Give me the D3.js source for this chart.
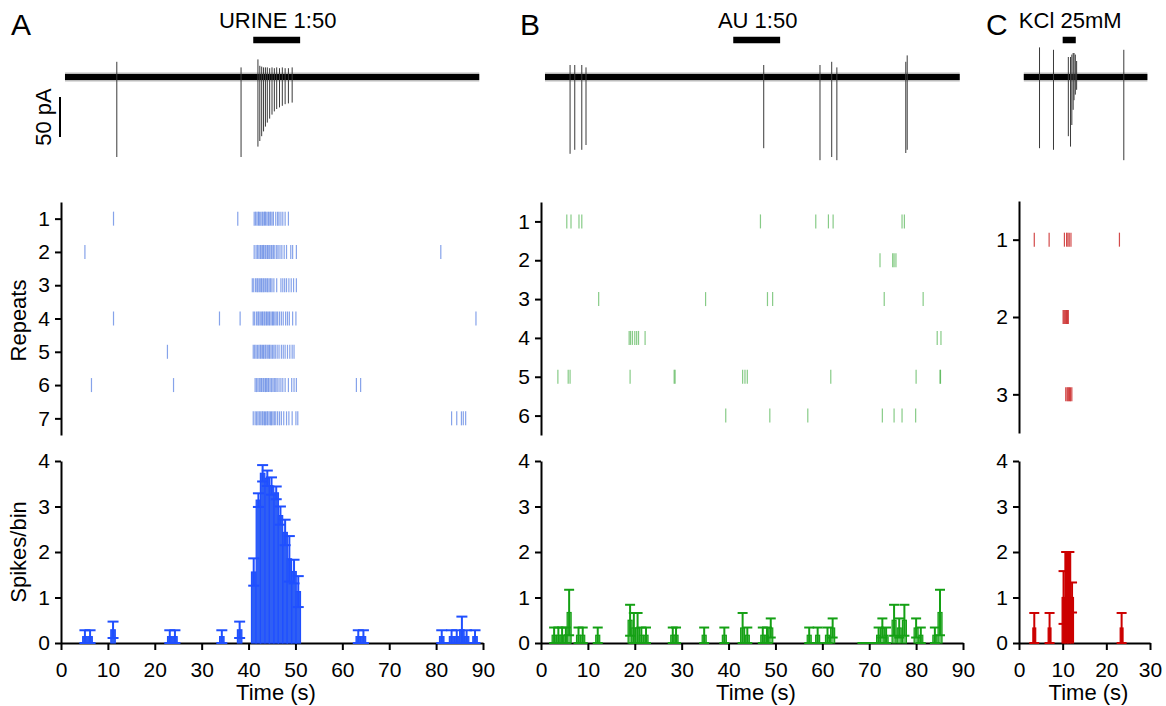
<!DOCTYPE html>
<html>
<head>
<meta charset="utf-8">
<script src="https://cdn.jsdelivr.net/npm/d3@7"></script>
<style>
  body { margin: 0; background: #fff; }
  svg { display: block; }
  text { font-family: "Liberation Sans", Arial, sans-serif; fill: #000; }
</style>
</head>
<body>
<div id="chart"></div>
<script>
// ---- data ----
const timeTicksLong = [0, 10, 20, 30, 40, 50, 60, 70, 80, 90];
const timeTicksShort = [0, 10, 20, 30];
const countTicks = [0, 1, 2, 3, 4];

const stimA = [41, 51];
const stimB = [41, 51];
const stimC = [10, 13];

// spike times (s) per repeat
const rasterA = [
  [11.2, 37.7, 41.2, 41.5, 41.8, 42.1, 42.3, 42.6, 42.9, 43.1, 43.4, 43.6, 43.9, 44.2, 44.4, 44.7, 45.0, 45.3, 45.8, 46.2, 46.5, 46.9, 47.3, 47.8, 48.5],
  [5.1, 41.2, 41.6, 41.9, 42.2, 42.5, 42.7, 43.0, 43.2, 43.5, 43.7, 44.0, 44.2, 44.5, 44.8, 45.0, 45.3, 45.6, 46.0, 46.3, 46.7, 47.1, 47.6, 48.1, 49.0, 49.4, 50.2, 81.0],
  [40.8, 41.1, 41.5, 41.8, 42.0, 42.3, 42.6, 42.8, 43.1, 43.3, 43.6, 43.9, 44.1, 44.4, 44.7, 45.0, 45.4, 46.0, 46.9, 47.3, 47.7, 48.1, 48.6, 49.1, 49.6, 50.2],
  [11.2, 33.8, 38.2, 41.0, 41.3, 41.7, 42.0, 42.2, 42.5, 42.8, 43.0, 43.3, 43.5, 43.8, 44.0, 44.3, 44.5, 44.8, 45.1, 45.3, 45.6, 45.9, 46.2, 46.6, 47.0, 47.4, 47.9, 48.3, 48.7, 49.4, 50.1, 88.5],
  [22.7, 41.0, 41.3, 41.6, 41.9, 42.2, 42.5, 42.7, 43.0, 43.2, 43.5, 43.7, 44.0, 44.3, 44.5, 44.8, 45.1, 45.4, 45.7, 46.1, 46.5, 47.0, 47.4, 47.8, 48.3, 48.8, 49.3, 49.7],
  [6.5, 24.0, 41.4, 41.7, 42.0, 42.3, 42.6, 42.8, 43.1, 43.3, 43.6, 43.8, 44.1, 44.3, 44.6, 44.9, 45.2, 45.5, 45.8, 46.1, 46.5, 46.9, 47.3, 47.8, 48.5, 49.2, 49.7, 50.2, 63.0, 63.9],
  [41.0, 41.4, 41.7, 42.0, 42.3, 42.6, 42.9, 43.1, 43.4, 43.6, 43.9, 44.1, 44.4, 44.7, 44.9, 45.2, 45.5, 45.8, 46.2, 46.6, 47.0, 47.5, 48.1, 48.6, 49.3, 50.1, 50.5, 83.3, 84.4, 85.4, 85.8, 86.3]
];
const rasterB = [
  [5.5, 6.4, 8.1, 8.7, 46.8, 58.6, 61.3, 62.3, 77.0, 77.5],
  [72.3, 75.0, 75.3, 75.7],
  [12.3, 35.1, 48.3, 49.4, 73.2, 81.5],
  [18.8, 19.1, 19.5, 20.0, 20.4, 20.8, 22.2, 84.5, 85.3],
  [3.6, 5.8, 6.2, 19.0, 28.4, 28.6, 43.0, 43.5, 44.0, 61.8, 80.0, 85.1, 85.2],
  [39.4, 48.8, 56.9, 72.8, 75.3, 77.0, 79.9]
];
const rasterC = [
  [3.5, 6.9, 10.4, 10.9, 11.2, 11.5, 11.9, 23.0],
  [10.1, 10.3, 10.5, 10.7, 10.9, 11.1, 11.3],
  [10.7, 11.0, 11.2, 11.4, 11.6, 11.8, 12.1]
];

// histograms: bin centre (s), mean spikes/bin, SEM
const binWidthA = 0.95;
const centersA = [5.1, 6.2, 11.1, 23.2, 24.3, 34.3, 38.1, 41.1, 42.1, 43.0, 44.0, 44.9, 45.9, 46.8, 47.8, 48.7, 49.7, 50.6, 63.4, 64.5, 81.2, 83.3, 84.4, 85.5, 86.5, 88.3];
const meansA = [0.14, 0.14, 0.29, 0.14, 0.14, 0.14, 0.29, 1.56, 3.14, 3.73, 3.62, 3.45, 3.30, 2.80, 2.43, 1.85, 1.57, 1.13, 0.14, 0.14, 0.14, 0.14, 0.14, 0.29, 0.14, 0.14];
const semsA = [0.14, 0.14, 0.18, 0.14, 0.14, 0.14, 0.18, 0.30, 0.15, 0.18, 0.17, 0.19, 0.14, 0.20, 0.28, 0.50, 0.26, 0.34, 0.14, 0.14, 0.14, 0.14, 0.14, 0.29, 0.14, 0.14];

const binWidthB = 0.85;
const centersB = [2.8, 3.7, 4.5, 5.3, 6.0, 8.0, 8.9, 12.1, 19.0, 19.8, 20.6, 21.4, 22.4, 28.1, 28.8, 34.8, 39.1, 43.0, 44.0, 47.3, 48.2, 49.0, 57.2, 59.0, 61.1, 62.2, 68.6, 69.5, 70.4, 71.2, 72.0, 72.8, 73.6, 75.3, 76.4, 77.5, 80.0, 81.0, 84.0, 85.1];
const meansB = [0.17, 0.17, 0.17, 0.17, 0.67, 0.17, 0.17, 0.17, 0.5, 0.33, 0.33, 0.17, 0.17, 0.17, 0.17, 0.17, 0.17, 0.33, 0.17, 0.17, 0.17, 0.33, 0.17, 0.17, 0.17, 0.33, 0, 0, 0, 0, 0.17, 0.33, 0.17, 0.5, 0.33, 0.5, 0.33, 0.17, 0.17, 0.67];
const semsB = [0.17, 0.17, 0.17, 0.17, 0.5, 0.17, 0.17, 0.17, 0.34, 0.33, 0.33, 0.17, 0.17, 0.17, 0.17, 0.17, 0.17, 0.33, 0.17, 0.17, 0.17, 0.21, 0.17, 0.17, 0.17, 0.21, 0, 0, 0, 0, 0.17, 0.21, 0.17, 0.34, 0.21, 0.34, 0.21, 0.17, 0.17, 0.5];

const binWidthC = 0.65;
const centersC = [3.5, 7.0, 10.2, 10.85, 11.5, 12.15, 23.5];
const meansC = [0.33, 0.33, 1.0, 2.0, 2.0, 1.0, 0.33];
const semsC = [0.33, 0.33, 0.58, 0, 0, 0.33, 0.33];

// example current traces: extent (s), spike time, upward / downward peak (pA)
const traceSpanA = [0.85, 89.2];
const traceTimesA = [11.9, 38.4, 42.0, 42.4, 42.8, 43.2, 43.6, 44.0, 44.5, 45.0, 45.5, 46.0, 46.6, 47.2, 47.8, 48.5, 49.3];
const traceUpA = [19, 12, 22, 14, 13, 12, 12, 12, 11, 12, 11, 12, 11, 12, 11, 11, 12];
const traceDownA = [100, 100, 87, 80, 74, 68, 62, 57, 52, 47, 43, 40, 38, 36, 34, 33, 32];

const traceSpanB = [0.85, 89.3];
const traceTimesB = [6.2, 7.2, 8.7, 9.6, 47.5, 59.5, 62.0, 63.1, 77.8, 78.1];
const traceUpB = [15, 15, 15, 12, 15, 15, 19, 12, 19, 27];
const traceDownB = [96, 91, 91, 85, 89, 104, 100, 104, 95, 91];

const traceSpanC = [1.1, 29.4];
const traceTimesC = [4.7, 7.9, 11.3, 11.8, 12.1, 12.4, 12.6, 12.9, 13.2, 24.0];
const traceUpC = [37, 34, 25, 25, 28, 30, 30, 28, 20, 34];
const traceDownC = [89, 91, 74, 87, 60, 41, 29, 22, 16, 104];

// ---- drawing ----
const W = 1166, H = 706;
const svg = d3.select('#chart').append('svg')
    .attr('width', W)
    .attr('height', H);

const layout = {
    traceBase: 77,
    pxPerPA: 0.8,
    stimY: 40,
    stimH: 6.5,
    labelY: 28,
    rasterBottom: 435,
    histTop: 461,
    histBottom: 643,
    tickLen: 14,
    tickFont: 21,
    labelFont: 22
};

const panels = [
    {
        letter: 'A', letterX: 11, stim: 'URINE 1:50', stimOn: stimA,
        domain: [0, 90], xRange: [61, 483], xTicks: timeTicksLong,
        raster: rasterA, rows: 7, rasterTop: 202, rasterBottom: 435,
        centers: centersA, means: meansA, sems: semsA, binWidth: binWidthA,
        span: traceSpanA, tTimes: traceTimesA, tUp: traceUpA, tDown: traceDownA,
        tick: '#3566dc', tickOpacity: 0.6, bar: '#1f4fff', barFill: '#2f5ff5', titles: true, capW: 11
    },
    {
        letter: 'B', letterX: 520, stim: 'AU 1:50', stimOn: stimB,
        domain: [0, 90], xRange: [541, 963], xTicks: timeTicksLong,
        raster: rasterB, rows: 6, rasterTop: 202, rasterBottom: 435,
        centers: centersB, means: meansB, sems: semsB, binWidth: binWidthB,
        span: traceSpanB, tTimes: traceTimesB, tUp: traceUpB, tDown: traceDownB,
        tick: '#24a024', tickOpacity: 0.55, bar: '#14a014', barFill: '#6cc46c', titles: false, capW: 10
    },
    {
        letter: 'C', letterX: 986, stim: 'KCl 25mM', stimOn: stimC,
        domain: [0, 30], xRange: [1019, 1150], xTicks: timeTicksShort,
        raster: rasterC, rows: 3, rasterTop: 201, rasterBottom: 433,
        centers: centersC, means: meansC, sems: semsC, binWidth: binWidthC,
        span: traceSpanC, tTimes: traceTimesC, tUp: traceUpC, tDown: traceDownC,
        tick: '#c81e1e', tickOpacity: 0.8, bar: '#cc0000', barFill: '#cc0000', titles: false, capW: 10
    }
];

function styleAxis(g, size) {
    g.select('.domain').attr('stroke', '#000').attr('stroke-width', 2);
    g.selectAll('.tick line').attr('stroke', '#000').attr('stroke-width', 2);
    g.selectAll('.tick text')
        .attr('fill', '#000')
        .style('font-family', '"Liberation Sans", Arial, sans-serif')
        .style('font-size', size + 'px');
}

panels.forEach(p => {
    const x = d3.scaleLinear().domain(p.domain).range(p.xRange);
    const g = svg.append('g');

    // panel letter
    g.append('text')
        .attr('x', p.letterX)
        .attr('y', 35)
        .style('font-size', '30px')
        .text(p.letter);

    // stimulus label + bar
    g.append('text')
        .attr('x', (x(p.stimOn[0]) + x(p.stimOn[1])) / 2 + 1)
        .attr('y', layout.labelY)
        .attr('text-anchor', 'middle')
        .style('font-size', layout.labelFont + 'px')
        .text(p.stim);
    g.append('rect')
        .attr('x', x(p.stimOn[0]))
        .attr('y', layout.stimY - layout.stimH / 2)
        .attr('width', x(p.stimOn[1]) - x(p.stimOn[0]))
        .attr('height', layout.stimH)
        .attr('fill', '#000');

    // example trace
    const yTrace = d3.scaleLinear()
        .domain([0, -50])
        .range([layout.traceBase, layout.traceBase + 50 * layout.pxPerPA]);
    const trace = g.append('g');
    trace.append('line')
        .attr('x1', x(p.span[0])).attr('x2', x(p.span[1]))
        .attr('y1', yTrace(0)).attr('y2', yTrace(0))
        .attr('stroke', '#777').attr('stroke-width', 9).attr('stroke-opacity', 0.5);
    trace.append('line')
        .attr('x1', x(p.span[0])).attr('x2', x(p.span[1]))
        .attr('y1', yTrace(0)).attr('y2', yTrace(0))
        .attr('stroke', '#000').attr('stroke-width', 6);
    trace.selectAll('.spike')
        .data(p.tTimes)
        .enter()
        .append('line')
        .attr('class', 'spike')
        .attr('x1', t => x(t)).attr('x2', t => x(t))
        .attr('y1', (t, i) => yTrace(p.tUp[i]))
        .attr('y2', (t, i) => yTrace(-p.tDown[i]))
        .attr('stroke', '#3a3a3a')
        .attr('stroke-width', 1);

    if (p.titles) {
        // 50 pA scale bar
        g.append('line')
            .attr('x1', 60).attr('x2', 60)
            .attr('y1', yTrace(-25)).attr('y2', yTrace(-75))
            .attr('stroke', '#000').attr('stroke-width', 2);
        g.append('text')
            .attr('transform', `translate(51,${yTrace(-50)}) rotate(-90)`)
            .attr('text-anchor', 'middle')
            .style('font-size', layout.labelFont + 'px')
            .text('50 pA');
    }

    // raster
    const yR = d3.scaleLinear()
        .domain([0.5, p.rows + 0.5])
        .range([p.rasterTop, p.rasterBottom]);
    const yRAxis = d3.axisLeft(yR)
        .tickValues(d3.range(1, p.rows + 1))
        .tickFormat(d3.format('d'))
        .tickSize(6)
        .tickSizeOuter(0)
        .tickPadding(5);
    g.append('g')
        .attr('transform', `translate(${p.xRange[0]},0)`)
        .call(yRAxis)
        .call(a => styleAxis(a, layout.tickFont));

    p.raster.forEach((spikes, r) => {
        g.append('g').selectAll('line')
            .data(spikes)
            .enter()
            .append('line')
            .attr('x1', t => x(t)).attr('x2', t => x(t))
            .attr('y1', yR(r + 1) - layout.tickLen / 2)
            .attr('y2', yR(r + 1) + layout.tickLen / 2)
            .attr('stroke', p.tick)
            .attr('stroke-opacity', p.tickOpacity)
            .attr('stroke-width', 1.2);
    });

    // histogram
    const yH = d3.scaleLinear().domain([0, 4]).range([layout.histBottom, layout.histTop]);
    g.append('g')
        .attr('transform', `translate(${p.xRange[0]},0)`)
        .call(d3.axisLeft(yH).tickValues(countTicks).tickFormat(d3.format('d'))
            .tickSize(6).tickSizeOuter(0).tickPadding(5))
        .call(a => styleAxis(a, layout.tickFont));
    g.append('g')
        .attr('transform', `translate(0,${layout.histBottom})`)
        .call(d3.axisBottom(x).tickValues(p.xTicks).tickFormat(d3.format('d'))
            .tickSize(7).tickSizeOuter(0).tickPadding(12))
        .call(a => styleAxis(a, layout.tickFont));

    const bins = p.centers.map((c, i) => ({ c, m: p.means[i], s: p.sems[i] }));
    g.append('g').selectAll('rect')
        .data(bins)
        .enter()
        .append('rect')
        .attr('x', d => x(d.c - p.binWidth / 2))
        .attr('width', d => x(d.c + p.binWidth / 2) - x(d.c - p.binWidth / 2))
        .attr('y', d => yH(d.m))
        .attr('height', d => yH(0) - yH(d.m))
        .attr('fill', p.barFill)
        .attr('stroke', p.bar)
        .attr('stroke-width', 1.2);

    const eb = g.append('g')
        .attr('stroke', p.bar)
        .attr('stroke-width', 2)
        .attr('fill', 'none');
    bins.forEach(d => {
        const lo = Math.max(0, d.m - d.s), hi = d.m + d.s;
        const cx = x(d.c);
        eb.append('line').attr('x1', cx).attr('x2', cx).attr('y1', yH(lo)).attr('y2', yH(hi));
        eb.append('line').attr('x1', cx - p.capW / 2).attr('x2', cx + p.capW / 2).attr('y1', yH(hi)).attr('y2', yH(hi));
        eb.append('line').attr('x1', cx - p.capW / 2).attr('x2', cx + p.capW / 2).attr('y1', yH(lo)).attr('y2', yH(lo));
    });

    // axis titles
    g.append('text')
        .attr('x', (p.xRange[0] + p.xRange[1]) / 2 + 4)
        .attr('y', 700)
        .attr('text-anchor', 'middle')
        .style('font-size', layout.labelFont + 'px')
        .text('Time (s)');

    if (p.titles) {
        g.append('text')
            .attr('transform', `translate(26,${(p.rasterTop + p.rasterBottom) / 2 + 2}) rotate(-90)`)
            .attr('text-anchor', 'middle')
            .style('font-size', layout.labelFont + 'px')
            .text('Repeats');
        g.append('text')
            .attr('transform', `translate(26,${(layout.histTop + layout.histBottom) / 2}) rotate(-90)`)
            .attr('text-anchor', 'middle')
            .style('font-size', layout.labelFont + 'px')
            .text('Spikes/bin');
    }
});
</script>
</body>
</html>
